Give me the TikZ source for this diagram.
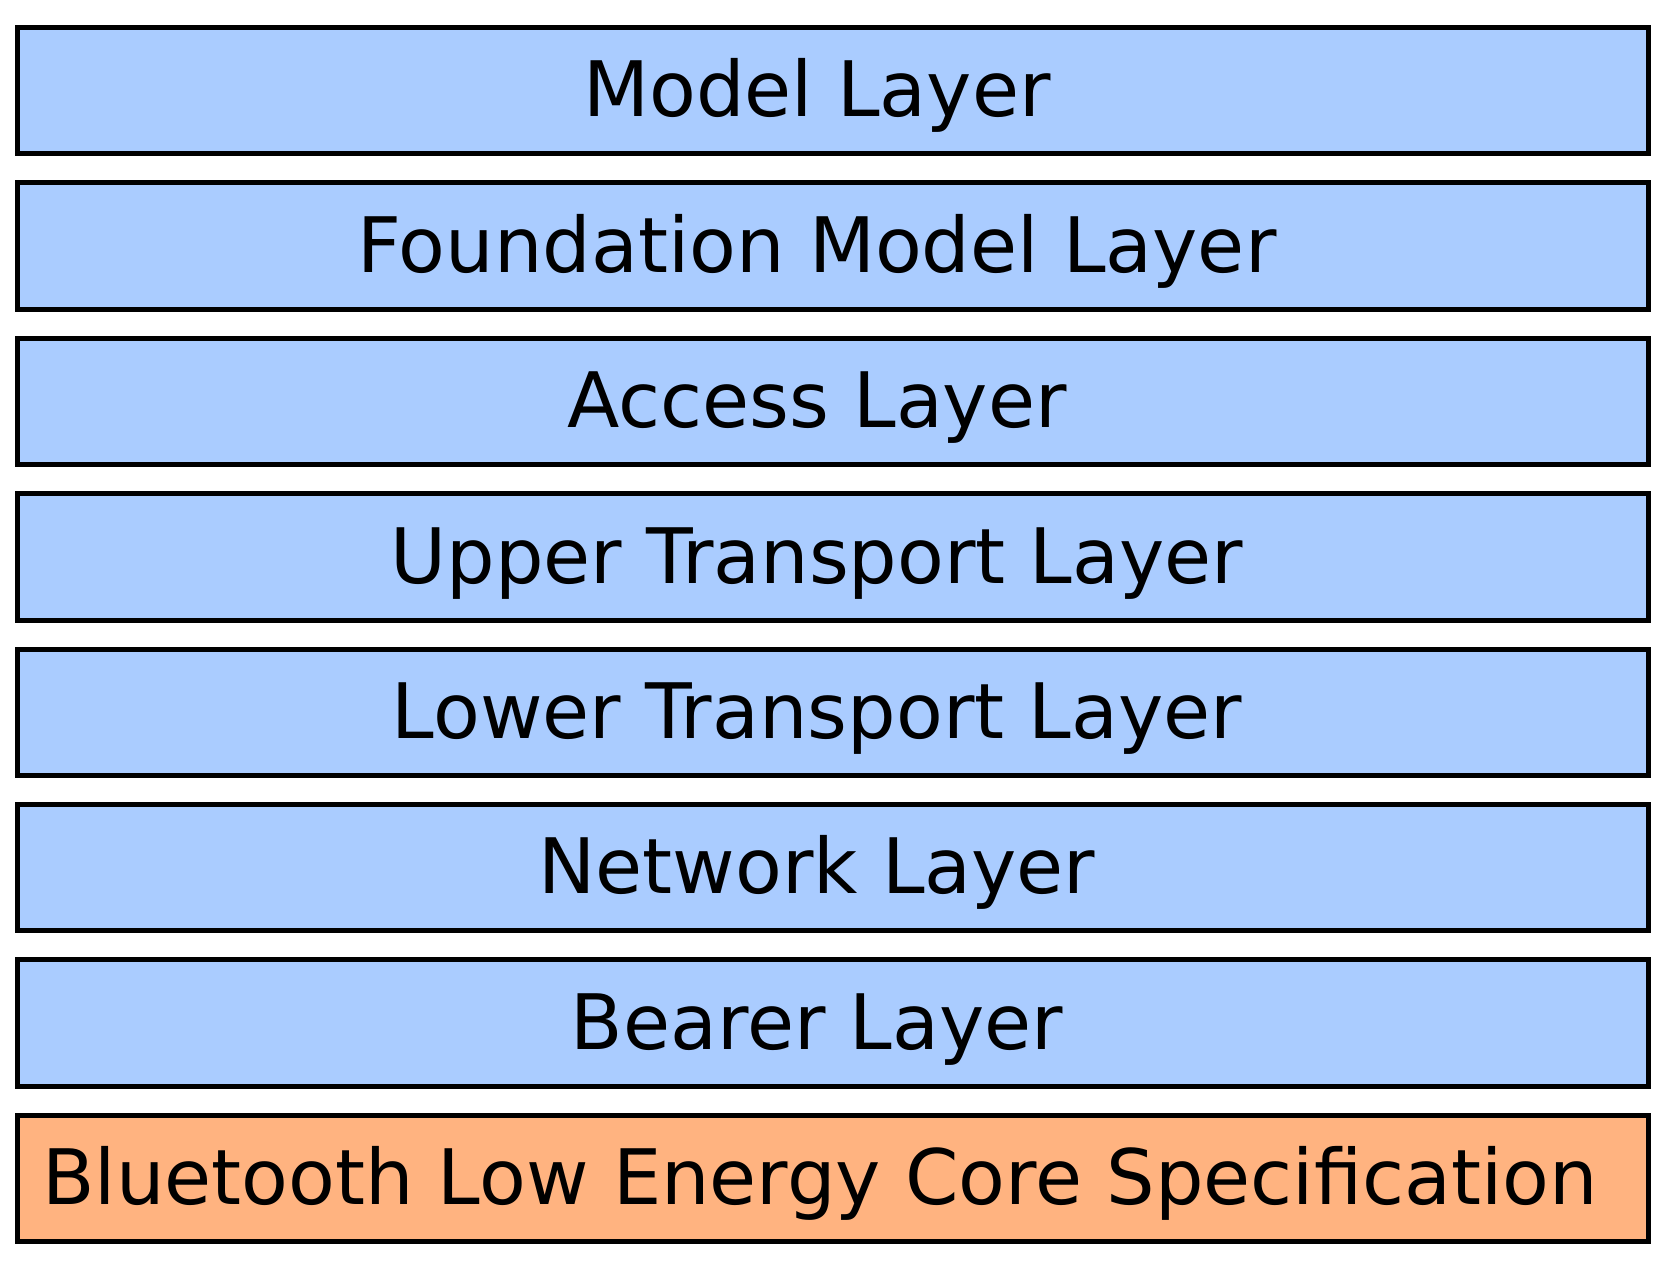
\documentclass[tikz,border=0pt]{standalone}
\usepackage{fontspec}
\setmainfont{DejaVu Sans}
\definecolor{layerblue}{HTML}{AACCFF}
\definecolor{coreorange}{HTML}{FFB380}
\begin{document}
\begin{tikzpicture}[x=1pt,y=-1pt,
  layerbox/.style={draw=black,line width=5pt,fill=layerblue},
  corebox/.style={draw=black,line width=5pt,fill=coreorange},
  layertext/.style={anchor=base,inner sep=0pt,font=\fontsize{76.5}{90}\selectfont}]
\useasboundingbox (0,0) rectangle (1669,1262);
\foreach \i/\t in {0/Model Layer,1/Foundation Model Layer,2/Access Layer,3/Upper Transport Layer,4/Lower Transport Layer,5/Network Layer,6/Bearer Layer}{
  \pgfmathsetmacro{\top}{27.5+155.4*\i}
  \draw[layerbox] (17.5,\top) rectangle (1648.2,\top+126.3);
  \node[layertext] (L\i) at (817,\top+89.3) {\t};
}
\draw[corebox] (17.5,1115.3) rectangle (1648.2,1241.6);
\node[layertext] (core) at (820,1204.6) {Bluetooth Low Energy Core Specification};
\end{tikzpicture}
\end{document}
